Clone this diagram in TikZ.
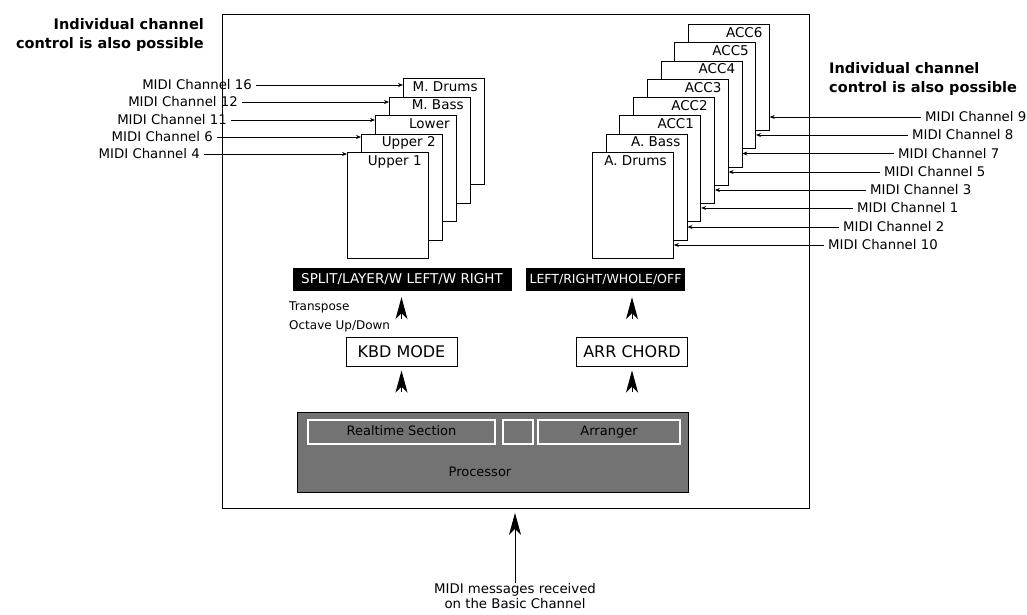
\documentclass[tikz,border=0pt]{standalone}
\usepackage{fontspec}
\setmainfont{DejaVu Sans}
\usetikzlibrary{arrows.meta,positioning,calc}

\tikzset{
  chbox/.style={draw, line width=0.8pt, fill=white, anchor=north west,
    minimum width=81pt, minimum height=106pt, inner sep=0pt},
  boxname/.style={anchor=north east, inner sep=2pt, xshift=-5pt, yshift=-1pt,
    font=\fontsize{13.5}{13.5}\selectfont},
  chlab/.style={font=\fontsize{13.3}{15}\selectfont, inner sep=4pt},
  chline/.style={line width=0.7pt, -{Stealth[length=5pt,width=4pt]}},
  blackbar/.style={fill=black, text=white, minimum height=23pt, inner sep=1pt},
  modebox/.style={draw, line width=1pt, minimum width=111pt, minimum height=29pt,
    inner sep=2pt, font=\fontsize{16}{16}\selectfont},
  upwedge/.style={line width=1pt, -{Stealth[length=22pt,width=12pt,inset=6pt]}},
  secbox/.style={draw=white, line width=1.2pt, minimum height=24pt, inner sep=1pt,
    text height=9.5pt, text depth=3pt, font=\fontsize{13}{13}\selectfont},
  titletxt/.style={font=\fontsize{14.5}{19}\bfseries\selectfont, inner sep=0pt}
}

\begin{document}
\begin{tikzpicture}[x=1pt,y=-1pt]
  \useasboundingbox (0,0) rectangle (1027,614);
  \node[draw, line width=0.9pt, anchor=north west, minimum width=587pt,
    minimum height=494pt, inner sep=0pt] (frame) at (222,14) {}; % 外枠

  % 左の束（奥から手前へ）
  \node[chbox, label={[boxname]north east:M. Drums}] (mdrums) at (403,78) {};
  \node[chbox, label={[boxname]north east:M. Bass}] (mbass) at (389,96.5) {};
  \node[chbox, label={[boxname]north east:Lower}] (lower) at (375,115) {};
  \node[chbox, label={[boxname]north east:Upper 2}] (upper2) at (361,133.5) {};
  \node[chbox, label={[boxname]north east:Upper 1}] (upper1) at (347,152) {};

  % 右の束（奥から手前へ）
  \node[chbox, label={[boxname]north east:ACC6}] (acc6) at (687.9,23.9) {};
  \node[chbox, label={[boxname]north east:ACC5}] (acc5) at (674.2,42.2) {};
  \node[chbox, label={[boxname]north east:ACC4}] (acc4) at (660.5,60.5) {};
  \node[chbox, label={[boxname]north east:ACC3}] (acc3) at (646.8,78.8) {};
  \node[chbox, label={[boxname]north east:ACC2}] (acc2) at (633.1,97.1) {};
  \node[chbox, label={[boxname]north east:ACC1}] (acc1) at (619.4,115.4) {};
  \node[chbox, label={[boxname]north east:A. Bass}] (abass) at (605.7,133.7) {};
  \node[chbox, label={[boxname]north east:A. Drums}] (adrums) at (592,152) {};

  % 見出し
  \node[titletxt, anchor=east, align=right] (titleL) at (204,35)
    {Individual channel\\control is also possible};
  \node[titletxt, anchor=west, align=left] (titleR) at (829,79)
    {Individual channel\\control is also possible};

  % 左のチャンネル
  \node[chlab, anchor=east] (ch16) at (256,85) {MIDI Channel 16};
  \node[chlab, anchor=east] (ch12) at (242,102) {MIDI Channel 12};
  \node[chlab, anchor=east] (ch11) at (231,120) {MIDI Channel 11};
  \node[chlab, anchor=east] (ch6) at (217,137) {MIDI Channel 6};
  \node[chlab, anchor=east] (ch4) at (204,154) {MIDI Channel 4};
  \draw[chline] (ch16.east) -- (ch16 -| mdrums.west);
  \draw[chline] (ch12.east) -- (ch12 -| mbass.west);
  \draw[chline] (ch11.east) -- (ch11 -| lower.west);
  \draw[chline] (ch6.east) -- (ch6 -| upper2.west);
  \draw[chline] (ch4.east) -- (ch4 -| upper1.west);

  % 右のチャンネル
  \node[chlab, anchor=west] (ch9) at (921,117) {MIDI Channel 9};
  \node[chlab, anchor=west] (ch8) at (908,135) {MIDI Channel 8};
  \node[chlab, anchor=west] (ch7) at (894,153.5) {MIDI Channel 7};
  \node[chlab, anchor=west] (ch5) at (880,172) {MIDI Channel 5};
  \node[chlab, anchor=west] (ch3) at (866,190) {MIDI Channel 3};
  \node[chlab, anchor=west] (ch1) at (853,208) {MIDI Channel 1};
  \node[chlab, anchor=west] (ch2) at (839,227) {MIDI Channel 2};
  \node[chlab, anchor=west] (ch10) at (824,245) {MIDI Channel 10};
  \draw[chline] (ch9.west) -- (ch9 -| acc6.east);
  \draw[chline] (ch8.west) -- (ch8 -| acc5.east);
  \draw[chline] (ch7.west) -- (ch7 -| acc4.east);
  \draw[chline] (ch5.west) -- (ch5 -| acc3.east);
  \draw[chline] (ch3.west) -- (ch3 -| acc2.east);
  \draw[chline] (ch1.west) -- (ch1 -| acc1.east);
  \draw[chline] (ch2.west) -- (ch2 -| abass.east);
  \draw[chline] (ch10.west) -- (ch10 -| adrums.east);

  % モード表示
  \node[blackbar, minimum width=219pt, font=\fontsize{13.5}{13.5}\selectfont]
    (kbdbar) at (402,279.5) {SPLIT/LAYER/W LEFT/W RIGHT};
  \node[blackbar, minimum width=159pt, font=\fontsize{12.5}{12.5}\selectfont]
    (arrbar) at (605.5,279.5) {LEFT/RIGHT/WHOLE/OFF};
  \node[font=\fontsize{12}{19}\selectfont, anchor=west, align=left, inner sep=0pt]
    (transp) at (289,316.5) {Transpose\\Octave Up/Down};
  \node[modebox] (kbd) at (401.5,351.5) {KBD MODE};
  \node[modebox] (arr) at (632,351.5) {ARR CHORD};

  % 音源部
  \node[draw, fill=black!55, anchor=north west, minimum width=391pt,
    minimum height=80pt, inner sep=0pt] (proc) at (297,412) {};
  \node[secbox, minimum width=187pt] (rts) at (401.5,432) {Realtime Section};
  \node[secbox, minimum width=30pt] (midsec) at (518,432) {};
  \node[secbox, minimum width=142pt] (arrsec) at (609,432) {Arranger};
  \node[font=\fontsize{13}{13}\selectfont] (procname) at (480,472) {Processor};

  % 矢印
  \draw[upwedge, shorten <=18pt, shorten >=6pt] (kbd.north) -- (kbd.north |- kbdbar.south);
  \draw[upwedge, shorten <=18pt, shorten >=6pt] (arr.north) -- (arr.north |- arrbar.south);
  \draw[upwedge, shorten <=20pt, shorten >=4pt] (kbd.south |- proc.north) -- (kbd.south);
  \draw[upwedge, shorten <=20pt, shorten >=4pt] (arr.south |- proc.north) -- (arr.south);

  \node[chlab, align=center, inner sep=0pt] (msg) at (515,596)
    {MIDI messages received\\on the Basic Channel};
  \draw[upwedge, shorten >=4pt] (msg.north) -- (msg.north |- frame.south);
\end{tikzpicture}
\end{document}
